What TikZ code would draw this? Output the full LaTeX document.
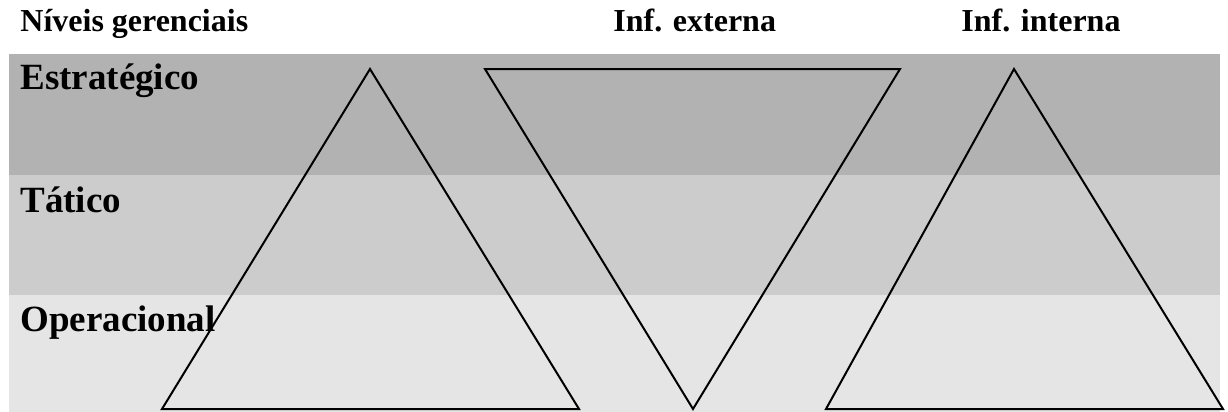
\documentclass[tikz,border=0pt]{standalone}
\usepackage{fontspec}
\setmainfont{Liberation Serif}
\begin{document}
\begin{tikzpicture}[x=0.5pt, y=-0.5pt,
            head/.style={anchor=base west, inner sep=0pt, font=\fontsize{16}{18}\selectfont\bfseries},
            level/.style={anchor=base west, inner sep=0pt, font=\fontsize{18.5}{21}\selectfont\bfseries},
            tri/.style={line width=1pt}
            ]
            \useasboundingbox (0,0) rectangle (1228,412);
            \fill[black!30] (9,54) rectangle (1220,175);
            \fill[black!20] (9,175) rectangle (1220,295);
            \fill[black!10] (9,295) rectangle (1220,412);

            \node[head] (niv) at (20,32) {Níveis gerenciais};
            \node[head] (ext) at (613,32) {Inf. externa};
            \node[head] (int) at (961,32) {Inf. interna};

            \node[level] (est) at (20,90) {Estratégico};
            \node[level] (tat) at (20,212) {Tático};
            \node[level] (ope) at (20,331) {Operacional};

            \coordinate (a) at (370,69);
            \coordinate (b) at (162,409);
            \coordinate (c) at (579,409);
            \coordinate (d) at (485,69);
            \coordinate (e) at (900,69);
            \coordinate (f) at (693,409);
            \coordinate (g) at (1014,69);
            \coordinate (h) at (826,409);
            \coordinate (i) at (1223,409);

            \draw[tri] (a)--(b)--(c)--cycle;
            \draw[tri] (d)--(e)--(f)--cycle;
            \draw[tri] (g)--(h)--(i)--cycle;

            \end{tikzpicture}
\end{document}
